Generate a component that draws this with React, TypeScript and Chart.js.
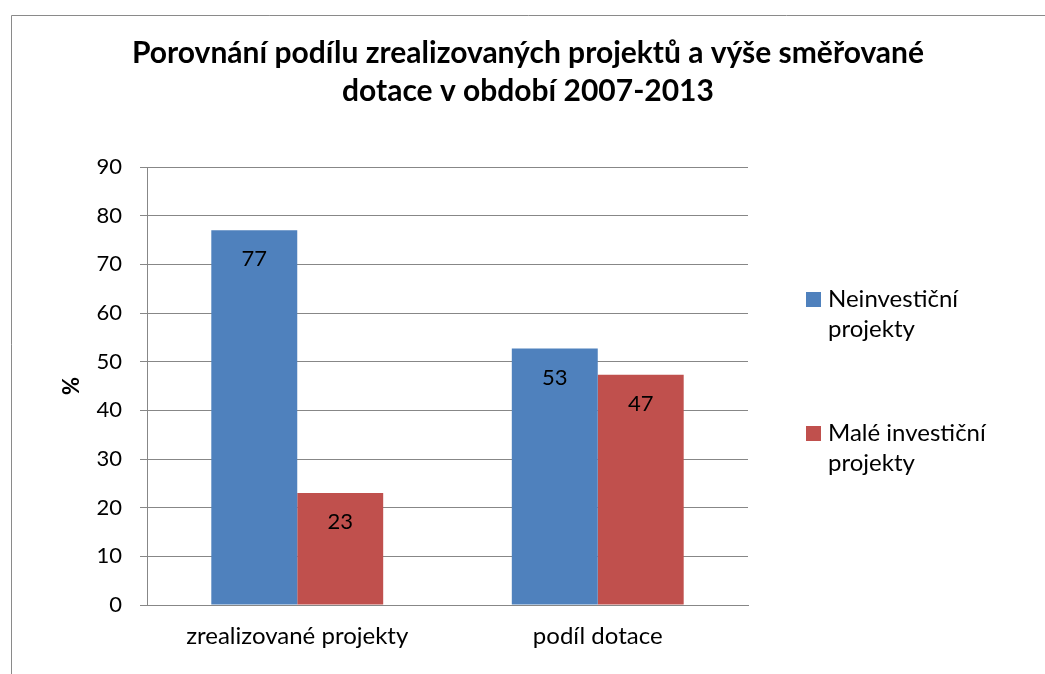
import React, { useEffect, useRef } from "react";
import { Chart, registerables } from "chart.js";

Chart.register(...registerables);

const titleLines = [
  "Porovnání podílu zrealizovaných projektů a výše směřované",
  "dotace v období 2007-2013",
];
const categories = ["zrealizované projekty", "podíl dotace"];
const seriesNames = ["Neinvestiční projekty", "Malé investiční projekty"];
const legendLines = [["Neinvestiční", "projekty"], ["Malé investiční", "projekty"]];
const neinvesticni = [77, 52.7];
const maleInvesticni = [23, 47.3];
const colors = ["#4F81BD", "#C0504D"];
const yTitle = "%";
const yMin = 0;
const yMax = 90;
const yStep = 10;

const FONT = "Lato";
const GRID = "#878787";

const framePlugin = {
  id: "frame",
  afterDraw(chart: any) {
    const ctx = chart.ctx;
    ctx.save();
    ctx.strokeStyle = "#8a8a8a";
    ctx.lineWidth = 1;
    ctx.beginPath();
    ctx.moveTo(11.5, chart.height);
    ctx.lineTo(11.5, 15.5);
    ctx.lineTo(chart.width, 15.5);
    ctx.stroke();
    ctx.restore();
  },
};

const labelsPlugin = {
  id: "barLabels",
  afterDatasetsDraw(chart: any) {
    const ctx = chart.ctx;
    ctx.save();
    ctx.font = `22px ${FONT}`;
    ctx.fillStyle = "#000";
    ctx.textAlign = "center";
    ctx.textBaseline = "middle";
    chart.data.datasets.forEach((ds: any, i: number) => {
      const meta = chart.getDatasetMeta(i);
      meta.data.forEach((bar: any, j: number) => {
        ctx.fillText(String(Math.round(ds.data[j])), bar.x, bar.y + 29);
      });
    });
    ctx.restore();
  },
};

const legendPlugin = {
  id: "sideLegend",
  afterDraw(chart: any) {
    const ctx = chart.ctx;
    const area = chart.chartArea;
    const x0 = area.right + 58;
    const lineH = 30;
    const itemGap = 134;
    const totalH = itemGap + lineH * 2;
    const yStart = (area.top + area.bottom) / 2 - totalH / 2 + 10;
    ctx.save();
    ctx.font = `24px ${FONT}`;
    ctx.textBaseline = "middle";
    ctx.textAlign = "left";
    chart.data.datasets.forEach((ds: any, i: number) => {
      const y = yStart + i * itemGap;
      ctx.fillStyle = ds.backgroundColor;
      ctx.fillRect(x0, y - 7, 15, 15);
      ctx.fillStyle = "#000";
      legendLines[i].forEach((t, k) => {
        ctx.fillText(t, x0 + 22, y + k * lineH);
      });
    });
    ctx.restore();
  },
};

export default function App() {
  const ref = useRef<HTMLCanvasElement>(null);
  useEffect(() => {
    if (!ref.current) return;
    const chart = new Chart(ref.current, {
      type: "bar",
      data: {
        labels: categories,
        datasets: [
          {
            label: seriesNames[0],
            data: neinvesticni,
            backgroundColor: colors[0],
            categoryPercentage: 0.572,
            barPercentage: 1,
          },
          {
            label: seriesNames[1],
            data: maleInvesticni,
            backgroundColor: colors[1],
            categoryPercentage: 0.572,
            barPercentage: 1,
          },
        ],
      },
      options: {
        responsive: false,
        animation: false,
        devicePixelRatio: 1,
        layout: { padding: { left: 11, top: 15, right: 0, bottom: 0 } },
        plugins: {
          legend: { display: false },
          tooltip: { enabled: false },
          title: {
            display: true,
            text: titleLines,
            color: "#000",
            font: { family: FONT, size: 30, weight: "bold", lineHeight: 38 / 30 },
            padding: { top: 19, bottom: 57 },
          },
        },
        scales: {
          x: {
            grid: { display: false, drawTicks: false },
            border: { display: true, color: GRID },
            ticks: { color: "#000", font: { family: FONT, size: 24 }, padding: 17 },
            afterFit: (s: any) => {
              s.height = 69;
            },
          },
          y: {
            min: yMin,
            max: yMax,
            ticks: {
              stepSize: yStep,
              color: "#000",
              font: { family: FONT, size: 22 },
              padding: 18,
            },
            grid: { color: GRID, tickLength: 7, lineWidth: 1 },
            border: { display: true, color: GRID },
            title: {
              display: true,
              text: yTitle,
              color: "#000",
              font: { family: FONT, size: 22, weight: "bold" },
              padding: { top: 48, bottom: 0 },
            },
            afterFit: (s: any) => {
              s.width = 136;
            },
          },
          yRight: {
            position: "right",
            display: true,
            grid: { display: false, drawTicks: false },
            border: { display: false },
            ticks: { display: false },
            afterFit: (s: any) => {
              s.width = 297;
            },
          },
        },
      },
      plugins: [framePlugin, labelsPlugin, legendPlugin],
    } as any);
    return () => chart.destroy();
  }, []);
  return (
    <div style={{ position: "absolute", left: 0, top: 0, width: 1045, height: 674, background: "#fff" }}>
      <canvas ref={ref} width={1045} height={674} />
    </div>
  );
}
